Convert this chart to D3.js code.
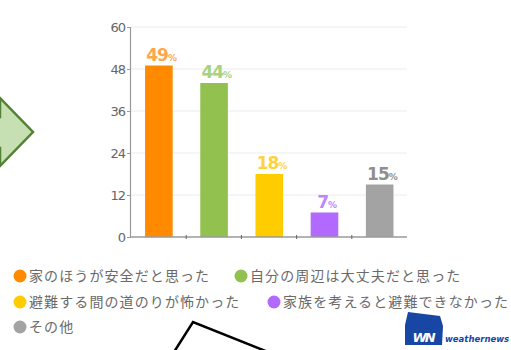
<!DOCTYPE html>
<html><head><meta charset="utf-8">
<script src="https://cdn.jsdelivr.net/npm/d3@7"></script>
<style>body{margin:0;background:#fff}svg{display:block}</style>
</head><body>
<svg id="c" width="511" height="350"></svg>
<script>
const categories = ["家のほうが安全だと思った","自分の周辺は大丈夫だと思った","避難する間の道のりが怖かった","家族を考えると避難できなかった","その他"];
const values = [49, 44, 18, 7, 15];
const colors = ["#ff8a00","#92c150","#ffcc00","#b169ff","#a3a3a3"];
const labelColors = ["#ffa64d","#a9d27e","#ffd23d","#bf85ff","#8f8f8f"];
const yTicks = [0, 12, 24, 36, 48, 60];

const svg = d3.select("#c");
const font = "'Noto Sans CJK JP', 'Noto Sans', sans-serif";

// decorations: green arrow at left
svg.append("polygon")
  .attr("points","-12,117 0,117 0,98 33,132 0,166 0,148 -12,148")
  .attr("fill","#c6e0b4").attr("stroke","#548235").attr("stroke-width",2.5).attr("stroke-linejoin","miter");

const x = d3.scaleBand().domain(d3.range(categories.length)).range([131, 407]).padding(0);
const y = d3.scaleLinear().domain([0, 60]).range([237, 27]);

// grid
svg.append("g").selectAll("line").data(yTicks.filter(d=>d>0)).join("line")
  .attr("x1",131).attr("x2",407).attr("y1",d=>y(d)).attr("y2",d=>y(d))
  .attr("stroke","#ececec").attr("stroke-width",1);

// y axis
const ya = svg.append("g").attr("transform","translate(130,0)")
  .call(d3.axisLeft(y).tickValues(yTicks).tickSize(3).tickPadding(2));
ya.select(".domain").attr("stroke","#9a9a9a").attr("stroke-width",1.2);
ya.selectAll(".tick line").attr("stroke","#9a9a9a");
ya.selectAll("text").attr("font-family","'DejaVu Sans', sans-serif").attr("font-size",13).attr("fill","#666").attr("letter-spacing","-1px");

// bars
const bw = x.bandwidth();
svg.append("g").selectAll("rect").data(values).join("rect")
  .attr("x",(d,i)=>x(i)+bw*0.255).attr("width",bw*0.5)
  .attr("y",d=>y(d)).attr("height",d=>y(0)-y(d))
  .attr("fill",(d,i)=>colors[i]);

// x axis
const xa = svg.append("g").attr("transform","translate(0,237)");
xa.append("line").attr("x1",130).attr("x2",407).attr("stroke","#9a9a9a").attr("stroke-width",1.5);
xa.selectAll("line.t").data(d3.range(1,categories.length)).join("line").attr("class","t")
  .attr("x1",i=>x(i)).attr("x2",i=>x(i)).attr("y1",-2).attr("y2",2).attr("stroke","#666");

// value labels
const lab = svg.append("g").selectAll("text").data(values).join("text")
  .attr("x",(d,i)=>x(i)+bw/2+3).attr("y",d=>y(d)-5)
  .attr("text-anchor","middle").attr("font-family","'DejaVu Sans', sans-serif")
  .attr("font-weight","bold").attr("fill",(d,i)=>labelColors[i]);
lab.append("tspan").attr("font-size",17).attr("letter-spacing","-1px").text(d=>d);
lab.append("tspan").attr("font-size",9).text("%");

// legend
const legendPos = [[20,276],[241,276],[20,302],[274,302],[20,327]];
const lg = svg.append("g").selectAll("g").data(categories).join("g")
  .attr("transform",(d,i)=>`translate(${legendPos[i][0]},${legendPos[i][1]})`);
lg.append("circle").attr("r",6.5).attr("fill",(d,i)=>colors[i]);
lg.append("text").attr("x",9).attr("y",5).attr("font-family",font).attr("font-size",14)
  .attr("letter-spacing","1.1px").attr("fill","#6a6a6a").text(d=>d);

// black line decoration
svg.append("polyline").attr("points","174,352 193,322 268,352")
  .attr("fill","none").attr("stroke","#000").attr("stroke-width",2.5);

// logo
const logo = svg.append("g");
logo.append("polygon").attr("points","408,312 440,316 443,326 442,345 405,345 405,325")
  .attr("fill","#1846a5");
logo.append("text").attr("x",423).attr("y",342).attr("text-anchor","middle")
  .attr("font-family","'DejaVu Sans', sans-serif").attr("font-weight","bold").attr("font-style","italic")
  .attr("font-size",13).attr("fill","#fff").attr("letter-spacing","-2px").text("WN");
logo.append("text").attr("x",445).attr("y",342).attr("font-family","'DejaVu Sans', sans-serif")
  .attr("font-weight","bold").attr("font-style","italic").attr("font-size",8.5).attr("fill","#1846a5").text("weathernews");
</script>
</body></html>
